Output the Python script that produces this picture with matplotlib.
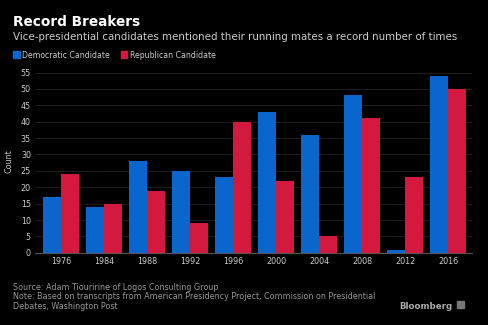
import matplotlib.pyplot as plt
import numpy as np

years = ["1976", "1984", "1988", "1992", "1996", "2000", "2004", "2008", "2012", "2016"]
dem = [17, 14, 28, 25, 23, 43, 36, 48, 1, 54]
rep = [24, 15, 19, 9, 40, 22, 5, 41, 23, 50]

blue = "#0a66cc"
red = "#d31a3e"

fig = plt.figure(figsize=(4.88, 3.25), dpi=100, facecolor="black")
ax = fig.add_axes([0.072, 0.222, 0.895, 0.565], facecolor="black")

x = np.arange(len(years))
w = 0.42
ax.bar(x - w / 2, dem, w, color=blue, zorder=3)
ax.bar(x + w / 2, rep, w, color=red, zorder=3)

ax.set_xlim(-0.6, len(years) - 0.45)
ax.set_ylim(0, 56)
ax.set_yticks(range(0, 60, 5))
ax.set_xticks(x)
ax.set_xticklabels(years)
ax.grid(axis="y", color="#222222", linewidth=0.6, zorder=0)
ax.tick_params(colors="#cccccc", labelsize=5.8, length=0, pad=3)
for s in ["top", "right", "left"]:
    ax.spines[s].set_visible(False)
ax.spines["bottom"].set_color("#555555")
ax.set_ylabel("Count", color="#cccccc", fontsize=5.8, labelpad=5)

fig.text(0.027, 0.92, "Record Breakers", color="white", fontsize=9.8, fontweight="bold")
fig.text(0.027, 0.877, "Vice-presidential candidates mentioned their running mates a record number of times",
         color="#cccccc", fontsize=7.4)

# legend
fig.patches.append(plt.Rectangle((0.027, 0.822), 0.014, 0.022, color=blue, transform=fig.transFigure))
fig.text(0.046, 0.823, "Democratic Candidate", color="#cccccc", fontsize=5.6)
fig.patches.append(plt.Rectangle((0.247, 0.822), 0.014, 0.022, color=red, transform=fig.transFigure))
fig.text(0.266, 0.823, "Republican Candidate", color="#cccccc", fontsize=5.6)

fig.text(0.027, 0.13, "Source: Adam Tiouririne of Logos Consulting Group\n"
         "Note: Based on transcripts from American Presidency Project, Commission on Presidential\n"
         "Debates, Washington Post", color="#999999", fontsize=5.8, linespacing=1.1, va="top")
fig.text(0.926, 0.05, "Bloomberg", color="#aaaaaa", fontsize=6.2, fontweight="bold", ha="right")
fig.patches.append(plt.Rectangle((0.937, 0.052), 0.014, 0.022, color="#777777", transform=fig.transFigure))

fig.savefig("out.png", dpi=100, facecolor="black")
